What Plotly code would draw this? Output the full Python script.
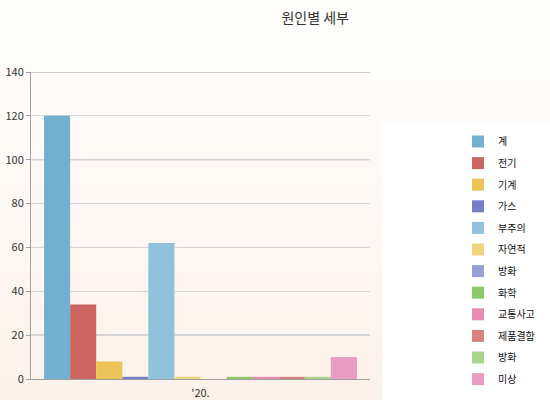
import plotly.graph_objects as go

# 원인별 세부 데이터 ('20.)
years = ["'20."]
causes = ['계', '전기', '기계', '가스', '부주의', '자연적', '방화', '화학',
          '교통사고', '제품결함', '방화', '미상']
counts = [120, 34, 8, 1, 62, 1, 0, 1, 1, 1, 1, 10]
colors = ['#72b0d2', '#cc6462', '#ecc457', '#7680c6', '#90c2db', '#f1d37e',
          '#979fd6', '#8dc96b', '#e98ab3', '#d8817e', '#a7d58c', '#e99dc2']
y_ticks = [0, 20, 40, 60, 80, 100, 120, 140]
dark_grid = [20, 60, 100, 140]

FONT = 'Noto Sans CJK KR, Dotum, sans-serif'

fig = go.Figure()
for i, (name, val, col) in enumerate(zip(causes, counts, colors)):
    fig.add_trace(go.Bar(x=years, y=[val], name=name, marker_color=col,
                         marker_line_width=0, legendgroup=f'g{i}'))

# 배경 그라데이션 (위 흰색 -> 아래 연한 살구색)
shapes = []
n = 40
top_c, bot_c = (255, 255, 254), (253, 241, 234)
for k in range(n):
    t = k / (n - 1)
    r = round(top_c[0] + (bot_c[0] - top_c[0]) * t)
    g = round(top_c[1] + (bot_c[1] - top_c[1]) * t)
    b = round(top_c[2] + (bot_c[2] - top_c[2]) * t)
    shapes.append(dict(type='rect', xref='paper', yref='paper',
                       x0=-0.2, x1=1.6, y0=1.3 - (k + 1) * 1.4 / n,
                       y1=1.3 - k * 1.4 / n + 0.002,
                       fillcolor=f'rgb({r},{g},{b})', line_width=0, layer='below'))
# 범례 영역 흰 상자
shapes.append(dict(type='rect', xref='paper', yref='paper',
                   x0=(382 - 31) / 339, x1=1.6, y0=-0.2, y1=1 - (123 - 72) / 307,
                   fillcolor='white', line_width=0, layer='below'))
# 진한 눈금선
for v in dark_grid:
    shapes.append(dict(type='line', xref='paper', yref='y', x0=0, x1=1,
                       y0=v, y1=v, line=dict(color='#9c9c9c', width=1),
                       layer='between'))

fig.update_layout(
    width=550, height=400,
    margin=dict(l=31, r=180, t=72, b=21, autoexpand=False),
    paper_bgcolor='white',
    plot_bgcolor='rgba(0,0,0,0)',
    title=dict(text='원인별 세부', x=0.573, xanchor='center', y=0.955,
               yanchor='middle', font=dict(family=FONT, size=14, color='#333333')),
    font=dict(family=FONT, size=11, color='#333333'),
    barmode='group', bargap=0.077, bargroupgap=0,
    shapes=shapes,
    showlegend=True,
    legend=dict(x=(458 - 31) / 339, xanchor='left', y=1 - (127 - 72) / 307,
                yanchor='top', bgcolor='rgba(0,0,0,0)', traceorder='grouped',
                tracegroupgap=2.6, font=dict(family=FONT, size=10, color='#111111'),
                itemwidth=30),
    xaxis=dict(showgrid=False, showline=True, linecolor='#a0a0a0',
               ticks='', tickfont=dict(size=11), automargin=False,
               ticklabelstandoff=4),
    yaxis=dict(range=[0, 140], tickvals=y_ticks, showgrid=True,
               gridcolor='#d6d6d6', showline=True, linecolor='#a0a0a0',
               ticks='outside', ticklen=4, tickcolor='#a0a0a0',
               zeroline=False, tickfont=dict(size=11), automargin=False),
)

# 페이지 기본 여백 제거
fig.write_html('out.html', config={'displayModeBar': False},
               post_script="document.body.style.margin='0';")
